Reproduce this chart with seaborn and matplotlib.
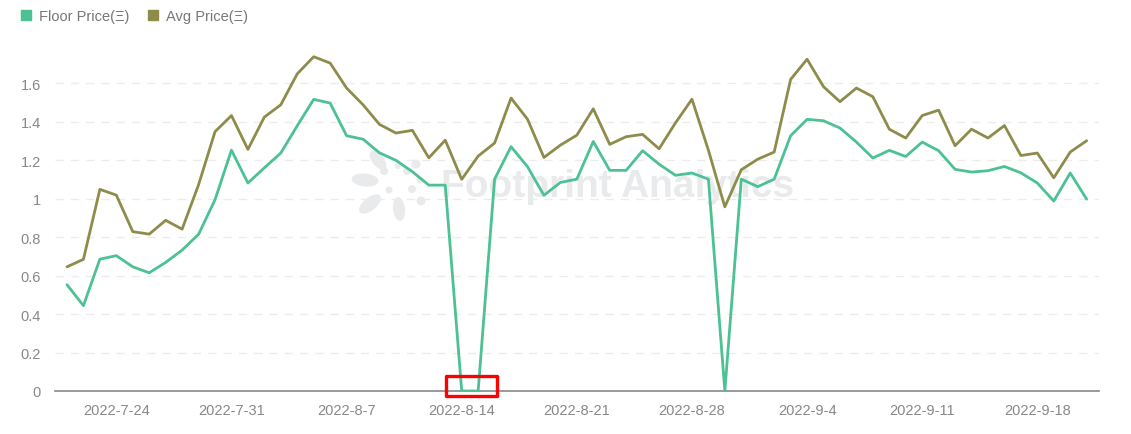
import math
import pandas as pd
import seaborn as sns
import matplotlib.pyplot as plt
import matplotlib.dates as mdates
from matplotlib.lines import Line2D
from matplotlib.patches import Rectangle, Ellipse

# daily values, 2022-7-21 .. 2022-9-21
dates = pd.date_range('2022-07-21', '2022-09-21', freq='D')
floor_price = [0.553, 0.444, 0.686, 0.704, 0.646, 0.615, 0.669, 0.733, 0.815, 0.995,
               1.253, 1.082, 1.161, 1.238, 1.380, 1.517, 1.498, 1.328, 1.310, 1.239,
               1.200, 1.141, 1.071, 1.071, 0.0, 0.0, 1.102, 1.271, 1.167, 1.018,
               1.085, 1.102, 1.298, 1.148, 1.148, 1.250, 1.180, 1.122, 1.134, 1.102,
               0.0, 1.102, 1.063, 1.102, 1.328, 1.413, 1.406, 1.368, 1.295, 1.212,
               1.252, 1.220, 1.295, 1.250, 1.153, 1.139, 1.146, 1.168, 1.135, 1.082,
               0.988, 1.134, 0.998]
avg_price = [0.646, 0.685, 1.049, 1.019, 0.829, 0.816, 0.888, 0.842, 1.073, 1.349,
             1.433, 1.257, 1.425, 1.489, 1.650, 1.739, 1.706, 1.576, 1.489, 1.387,
             1.342, 1.356, 1.213, 1.305, 1.101, 1.222, 1.290, 1.524, 1.414, 1.215,
             1.279, 1.331, 1.468, 1.283, 1.323, 1.335, 1.260, 1.395, 1.518, 1.253,
             0.958, 1.151, 1.206, 1.243, 1.621, 1.726, 1.583, 1.505, 1.576, 1.531,
             1.362, 1.316, 1.433, 1.461, 1.276, 1.362, 1.316, 1.381, 1.225, 1.238,
             1.109, 1.243, 1.302]

series_names = ['Floor Price(Ξ)', 'Avg Price(Ξ)']
colors = ['#4cc194', '#8e8c4b']

tick_dates = ['2022-07-24', '2022-07-31', '2022-08-07', '2022-08-14', '2022-08-21',
              '2022-08-28', '2022-09-04', '2022-09-11', '2022-09-18']
tick_labels = ['2022-7-24', '2022-7-31', '2022-8-7', '2022-8-14', '2022-8-21',
               '2022-8-28', '2022-9-4', '2022-9-11', '2022-9-18']
yticks = [0, 0.2, 0.4, 0.6, 0.8, 1.0, 1.2, 1.4, 1.6]
ytick_labels = ['0', '0.2', '0.4', '0.6', '0.8', '1', '1.2', '1.4', '1.6']

df = pd.DataFrame({'date': list(dates) * 2,
                   'value': floor_price + avg_price,
                   'series': [series_names[0]] * len(dates) + [series_names[1]] * len(dates)})

sns.set_style('white')
plt.rcParams['font.family'] = ['Liberation Sans', 'DejaVu Sans']

fig = plt.figure(figsize=(11.31, 4.35), dpi=100)

# watermark layer in pixel coordinates, behind the chart
wm = fig.add_axes([0, 0, 1, 1], zorder=0)
wm.set_xlim(0, 1131)
wm.set_ylim(435, 0)
wm.axis('off')
wm_color = '#e9eaec'
cx, cy = 396, 184
petals = [(365, 181, 27, 13), (378, 161, 22, 12), (370, 205, 26, 13), (399, 210, 24, 12)]
for px, py, length, width in petals:
    ang = math.degrees(math.atan2(py - cy, px - cx))
    wm.add_patch(Ellipse((px, py), length, width, angle=ang, color=wm_color, lw=0))
dots = [(384, 172, 8), (389, 191, 7), (407, 172, 8), (416, 165, 9), (412, 190, 8),
        (421, 202, 9), (420, 181, 7), (398, 167, 6)]
for px, py, d in dots:
    wm.add_patch(Ellipse((px, py), d, d, color=wm_color, lw=0))
wm.text(618, 197, 'Footprint Analytics', ha='center', va='baseline',
        fontsize=28, fontweight='bold', color=wm_color)

ax = fig.add_axes([55 / 1131, 43 / 435, 1044 / 1131, 346 / 435], zorder=1)
ax.patch.set_alpha(0)

sns.lineplot(data=df, x='date', y='value', hue='series', palette=colors,
             linewidth=2, legend=False, ax=ax, zorder=3)

ax.set_xlim(dates[0] - pd.Timedelta(hours=17.5), dates[-1] + pd.Timedelta(hours=18))
ax.set_ylim(0, 1.8)
ax.set_xlabel('')
ax.set_ylabel('')

ax.set_yticks(yticks)
ax.set_yticklabels(ytick_labels)
ax.set_xticks(pd.to_datetime(tick_dates))
ax.set_xticklabels(tick_labels)
ax.tick_params(axis='both', length=0, labelsize=10.5, colors='#888888')
ax.tick_params(axis='x', pad=9)
ax.tick_params(axis='y', pad=10)

# end ticks of the x axis
ax.set_xticks(list(ax.get_xlim()), minor=True)
ax.tick_params(axis='x', which='minor', length=7, width=1.2, color='#888888')

for y in yticks[1:]:
    ax.axhline(y, color='#ececec', linewidth=1, linestyle=(0, (6, 5)), zorder=1)

for side in ['top', 'right', 'left']:
    ax.spines[side].set_visible(False)
ax.spines['bottom'].set_color('#888888')
ax.spines['bottom'].set_linewidth(1.2)

# red highlight box around the zero floor price
x0 = mdates.date2num(pd.Timestamp('2022-08-14')) - 0.93
x1 = mdates.date2num(pd.Timestamp('2022-08-14')) + 2.14
ax.add_patch(Rectangle((x0, -0.028), x1 - x0, 0.108, fill=False, edgecolor='#ff0000',
                       linewidth=2.4, joinstyle='round', clip_on=False, zorder=5))

handles = [Line2D([], [], marker='s', linestyle='', color=c, markersize=7.5) for c in colors]
leg = fig.legend(handles, series_names, loc='center left', bbox_to_anchor=(0.013, 1 - 17 / 435),
                 ncol=2, frameon=False, fontsize=10.5, handlelength=0.8, handletextpad=0.5,
                 columnspacing=1.2, borderaxespad=0)
for t in leg.get_texts():
    t.set_color('#777777')

fig.savefig('out.png', dpi=100)
